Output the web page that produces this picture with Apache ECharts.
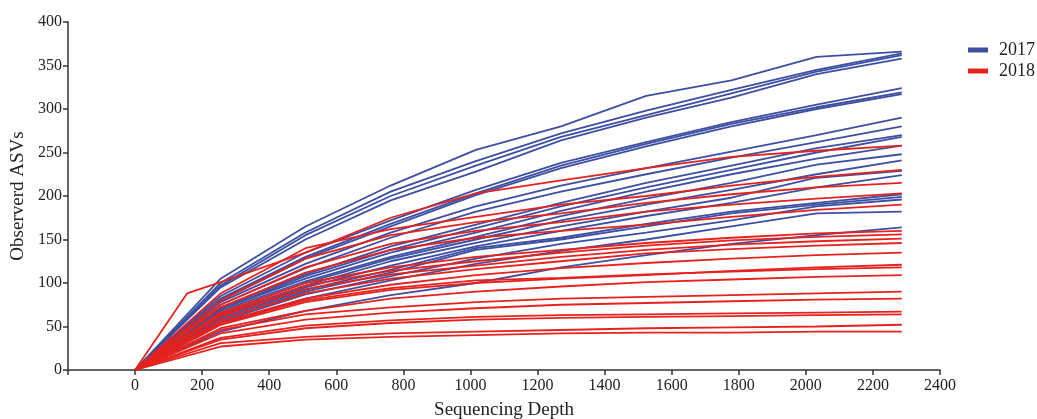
<!DOCTYPE html>
<html>
<head>
<meta charset="utf-8">
<script src="https://cdn.jsdelivr.net/npm/echarts@6/dist/echarts.min.js"></script>
<style>
html,body{margin:0;padding:0;background:#fff;}
#chart{width:1037px;height:419px;}
</style>
</head>
<body>
<div id="chart"></div>
<script>
// Sequencing depths of the rarefaction steps
const depths = [0, 255, 508, 762, 1016, 1270, 1524, 1778, 2032, 2286];

// 2017 samples: observed ASVs at each depth
const samples2017 = [
  [0,105,165,212,253,280,315,333,360,366],
  [0,100,158,205,240,272,298,322,345,364],
  [0, 97,155,200,235,268,293,318,343,362],
  [0, 95,150,195,228,264,290,313,340,358],
  [0, 85,135,172,207,238,262,285,305,324],
  [0, 82,130,168,203,235,260,283,302,319],
  [0, 80,128,165,201,232,257,280,300,317],
  [0, 78,122,158,188,212,232,251,270,290],
  [0, 75,117,152,182,205,225,244,262,280],
  [0, 72,110,142,167,192,215,235,255,270],
  [0, 70,108,138,163,188,210,230,250,268],
  [0, 70,105,135,158,183,205,225,243,258],
  [0, 68,102,130,153,177,197,215,236,248],
  [0, 65,100,128,150,172,190,207,225,241],
  [0, 63, 97,125,146,165,182,198,221,229],
  [0, 62, 95,120,142,160,177,192,210,224],
  [0, 60, 92,115,140,152,168,182,192,202],
  [0, 58, 90,112,138,150,165,180,190,199],
  [0, 56, 87,108,128,145,158,172,188,196],
  [0, 52, 82,103,122,137,150,165,180,182],
  [0, 44, 68, 86,100,118,132,145,155,164]
];

// 2018 samples: observed ASVs at each depth
const samples2018 = [
  [0, 88,140,162,176,190,200,212,222,230],
  [0, 80,128,155,170,180,192,202,210,215],
  [0, 75,118,145,160,170,182,190,197,203],
  [0, 72,112,138,152,160,167,176,184,190],
  [0, 66,100,118,130,138,146,152,157,160],
  [0, 64, 97,114,125,135,143,149,153,156],
  [0, 62, 93,110,120,130,138,144,148,151],
  [0, 58, 88,105,116,125,134,139,143,146],
  [0, 55, 82, 98,109,117,123,128,132,135],
  [0, 52, 78, 92,100,105,109,114,118,121],
  [0, 54, 80, 94,103,106,110,113,116,118],
  [0, 48, 68, 82, 90, 96,101,104,107,109],
  [0, 46, 64, 72, 78, 82, 84, 86, 88, 90],
  [0, 42, 58, 66, 71, 75, 77, 79, 81, 82],
  [0, 37, 51, 57, 61, 63, 64, 65, 66, 67],
  [0, 35, 48, 54, 58, 60, 61, 62, 63, 64],
  [0, 31, 38, 42, 44, 46, 48, 49, 50, 52],
  [0, 27, 35, 38, 40, 42, 43, 43, 44, 44]
];

// one 2018 sample with an extra low-depth step
const special2018Depths = [0, 155, 255, 508, 762, 1016, 1270, 1524, 1778, 2032, 2286];
const special2018Values = [0, 88, 101, 135, 175, 203, 218, 232, 245, 252, 258];

const xTicks = [-200, 2400, 200];
const yTicks = [0, 400, 50];

const BLUE = '#3d4fa2';
const RED = '#e6221e';
const FONT = '"Liberation Serif", "Times New Roman", serif';

function toPairs(xs, ys) { return xs.map((x, i) => [x, ys[i]]); }

const series = [];
samples2017.forEach(v => series.push({
  name: '2017', type: 'line', symbol: 'none', data: toPairs(depths, v),
  lineStyle: { color: BLUE, width: 1.8 }, itemStyle: { color: BLUE }, z: 2
}));
series.push({
  name: '2018', type: 'line', symbol: 'none', data: toPairs(special2018Depths, special2018Values),
  lineStyle: { color: RED, width: 1.8 }, itemStyle: { color: RED }, z: 3
});
samples2018.forEach(v => series.push({
  name: '2018', type: 'line', symbol: 'none', data: toPairs(depths, v),
  lineStyle: { color: RED, width: 1.8 }, itemStyle: { color: RED }, z: 3
}));

const chart = echarts.init(document.getElementById('chart'), null, { renderer: 'canvas' });
chart.setOption({
  animation: false,
  backgroundColor: '#fff',
  grid: { left: 68, right: 97, top: 22, bottom: 49, containLabel: false, outerBoundsMode: 'none' },
  legend: {
    data: ['2017', '2018'],
    orient: 'vertical',
    left: 963, top: 36,
    icon: 'rect', itemWidth: 20, itemHeight: 5, itemGap: 3,
    textStyle: { fontFamily: FONT, fontSize: 18, color: '#222', padding: [0, 0, 0, 6] }
  },
  xAxis: {
    type: 'value', min: xTicks[0], max: xTicks[1], interval: xTicks[2],
    name: 'Sequencing Depth', nameLocation: 'middle', nameGap: 31,
    nameTextStyle: { fontFamily: FONT, fontSize: 19, color: '#222' },
    axisLine: { show: true, onZero: false, lineStyle: { color: '#333', width: 1.5 } },
    axisTick: { show: true, length: 5, lineStyle: { color: '#333', width: 1.5 } },
    axisLabel: { fontFamily: FONT, fontSize: 16, color: '#222', margin: 8,
      formatter: v => (v < 0 ? '' : String(v)) },
    splitLine: { show: false }
  },
  yAxis: {
    type: 'value', min: yTicks[0], max: yTicks[1], interval: yTicks[2],
    name: 'Observerd ASVs', nameLocation: 'middle', nameGap: 35,
    nameTextStyle: { fontFamily: FONT, fontSize: 19, color: '#222' },
    axisLine: { show: true, onZero: false, lineStyle: { color: '#333', width: 1.5 } },
    axisTick: { show: true, length: 5, lineStyle: { color: '#333', width: 1.5 } },
    axisLabel: { fontFamily: FONT, fontSize: 16, color: '#222', margin: 6 },
    splitLine: { show: false }
  },
  series: series
});
</script>
</body>
</html>
